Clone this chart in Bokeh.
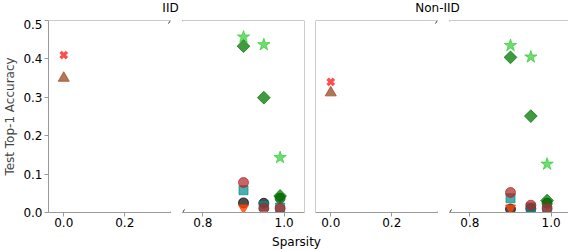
from bokeh.plotting import figure
from bokeh.layouts import column, row
from bokeh.models import Range1d, FixedTicker, PrintfTickFormatter, Span, Arrow, Label
from bokeh.embed import file_html
from bokeh.resources import INLINE

# ---------------- data ----------------
panel_titles = ["IID", "Non-IID"]
x_dense = [0.0]
x_sparse = [0.9, 0.95, 0.99]
x_dg = [0.99]
x_dark = [0.9, 0.95]
x_orange = [0.9]

xmark_iid = [0.41]
xmark_non = [0.34]
tri_iid = [0.35]
tri_non = [0.312]
star_iid = [0.457, 0.437, 0.143]
star_non = [0.435, 0.405, 0.126]
diam_iid = [0.433, 0.299, 0.043]
diam_non = [0.404, 0.251, 0.031]
dg_iid = [0.037]
dg_non = [0.024]
dark_iid = [0.025, 0.024]
dark_non = [0.009, 0.010]
teal_iid = [0.058, 0.017, 0.013]
teal_non = [0.037, 0.013, 0.009]
orange_iid = [0.012]
orange_non = [0.012]
brown_iid = [0.078, 0.011, 0.011]
brown_non = [0.052, 0.019, 0.011]

y_ticks = [0.0, 0.1, 0.2, 0.3, 0.4, 0.5]
xa_ticks = [0.0, 0.2]
xb_ticks = [0.8, 1.0]
xa_range = (-0.05, 0.35)
xb_range = (0.75, 1.05)
y_range = (0.0, 0.5)

FONT = "DejaVu Sans"
SPINE = "#9a9a9a"
FW = 122
FH = 192
LB = 42   # left border of first sub-plot (y axis area)
GAP_IN = 6
GAP_P1 = 5
GAP_P2 = 6
RB = 2
TOP_H = 19
BOT_H = 16
AX_H = 21


def base_fig(xr, ticks, mb_left, mb_right, with_y):
    p = figure(frame_width=FW, frame_height=FH, title=None,
               x_range=Range1d(*xr), y_range=Range1d(*y_range),
               toolbar_location=None, output_backend="svg",
               y_axis_location="left" if with_y else None,
               min_border_left=mb_left, min_border_right=mb_right,
               min_border_top=1, min_border_bottom=AX_H,
               outline_line_color=None, background_fill_color="white")
    p.xgrid.visible = False
    p.ygrid.visible = False
    ax = p.xaxis[0]
    ax.ticker = FixedTicker(ticks=ticks)
    ax.formatter = PrintfTickFormatter(format="%.1f")
    ax.axis_line_color = SPINE
    ax.major_tick_line_color = SPINE
    ax.major_tick_out = 4
    ax.major_tick_in = 0
    ax.minor_tick_line_color = None
    ax.major_label_standoff = 1
    ax.major_label_text_font = FONT
    ax.major_label_text_font_size = "12px"
    ax.major_label_text_color = "black"
    if with_y:
        ay = p.yaxis[0]
        ay.ticker = FixedTicker(ticks=y_ticks)
        ay.formatter = PrintfTickFormatter(format="%.1f")
        ay.axis_line_color = SPINE
        ay.major_tick_line_color = SPINE
        ay.major_tick_out = 4
        ay.major_tick_in = 0
        ay.minor_tick_line_color = None
        ay.major_label_standoff = 2
        ay.major_label_text_font = FONT
        ay.major_label_text_font_size = "12px"
        ay.major_label_text_color = "black"
        ay.axis_label = "Test Top-1 Accuracy"
        ay.axis_label_text_font = FONT
        ay.axis_label_text_font_size = "12px"
        ay.axis_label_text_font_style = "normal"
        ay.axis_label_standoff = 3
    p.add_layout(Span(location=y_range[1], dimension="width",
                      line_color=SPINE, line_width=1))
    return p


def break_marks(p, xpos, xr):
    dx = 2.0 * (xr[1] - xr[0]) / FW
    dy = 3.0 * (y_range[1] - y_range[0]) / FH
    for yy in (y_range[0], y_range[1]):
        p.add_layout(Arrow(end=None, x_start=xpos - dx, y_start=yy - dy,
                           x_end=xpos + dx, y_end=yy + dy,
                           line_color="#333333", line_width=1))


def add_points(p, which, side):
    def pick(a, b):
        return a if which == 0 else b
    if side == "a":
        p.scatter(x_dense, pick(xmark_iid, xmark_non), marker="x", size=9,
                  line_width=3.4, line_color="#ff0000", line_alpha=0.7)
        p.scatter(x_dense, pick(tri_iid, tri_non), marker="triangle", size=11,
                  fill_color="#a0522d", fill_alpha=0.8, line_color="#a0522d", line_alpha=0.8)
    p.scatter(x_sparse, pick(star_iid, star_non), marker="star", size=13,
              fill_color="#32cd32", fill_alpha=0.7, line_color="#32cd32", line_alpha=0.7)
    p.scatter(x_sparse, pick(diam_iid, diam_non), marker="square", angle=0.785398, size=9,
              fill_color="#007a00", fill_alpha=0.75, line_color="#007a00", line_alpha=0.75)
    p.scatter(x_dg, pick(dg_iid, dg_non), marker="circle", size=10,
              fill_color="#006400", fill_alpha=0.8, line_color="#006400", line_alpha=0.8)
    p.scatter(x_dark, pick(dark_iid, dark_non), marker="circle", size=10,
              fill_color="#000000", fill_alpha=0.7, line_color="#000000", line_alpha=0.7)
    p.scatter(x_sparse, pick(teal_iid, teal_non), marker="square", size=9,
              fill_color="#008b8b", fill_alpha=0.7, line_color="#008b8b", line_alpha=0.7)
    p.scatter(x_orange, pick(orange_iid, orange_non), marker="inverted_triangle", size=10,
              fill_color="#ff4500", fill_alpha=0.8, line_color="#ff4500", line_alpha=0.8)
    p.scatter(x_sparse, pick(brown_iid, brown_non), marker="circle", size=10,
              fill_color="#b22222", fill_alpha=0.7, line_color="#b22222", line_alpha=0.7)


figs = []
for i in range(2):
    first = (i == 0)
    pa = base_fig(xa_range, xa_ticks, LB if first else GAP_P2, GAP_IN, first)
    if not first:
        pa.add_layout(Span(location=xa_range[0], dimension="height",
                           line_color=SPINE, line_width=1))
    add_points(pa, i, "a")
    break_marks(pa, xa_range[1], xa_range)
    pb = base_fig(xb_range, xb_ticks, GAP_IN, GAP_P1 if first else RB, False)
    pb.add_layout(Span(location=xb_range[1], dimension="height",
                       line_color=SPINE, line_width=1))
    add_points(pb, i, "b")
    break_marks(pb, xb_range[0], xb_range)
    figs += [pa, pb]

W = LB + 4 * FW + 4 * GAP_IN + GAP_P1 + GAP_P2 + RB


def strip(h, labels):
    s = figure(width=W, height=h, title=None,
               x_range=Range1d(0, W), y_range=Range1d(0, h),
               toolbar_location=None, output_backend="svg",
               x_axis_location=None, y_axis_location=None,
               min_border=0, outline_line_color=None)
    s.xgrid.visible = False
    s.ygrid.visible = False
    for (xx, yy, t) in labels:
        s.add_layout(Label(x=xx, y=yy, text=t, text_align="center",
                           text_baseline="middle", text_font=FONT,
                           text_font_size="12px", text_color="black"))
    return s


c1 = LB + FW + GAP_IN
c2 = LB + 3 * FW + 4 * GAP_IN + GAP_P1 + GAP_P2 - GAP_IN
cx = 296
top = strip(TOP_H, [(c1, 12, panel_titles[0]), (c2, 12, panel_titles[1])])
bottom = strip(BOT_H, [(cx, 8, "Sparsity")])

layout = column(top, row(*figs), bottom)
open("out.html", "w").write(file_html(layout, INLINE))
